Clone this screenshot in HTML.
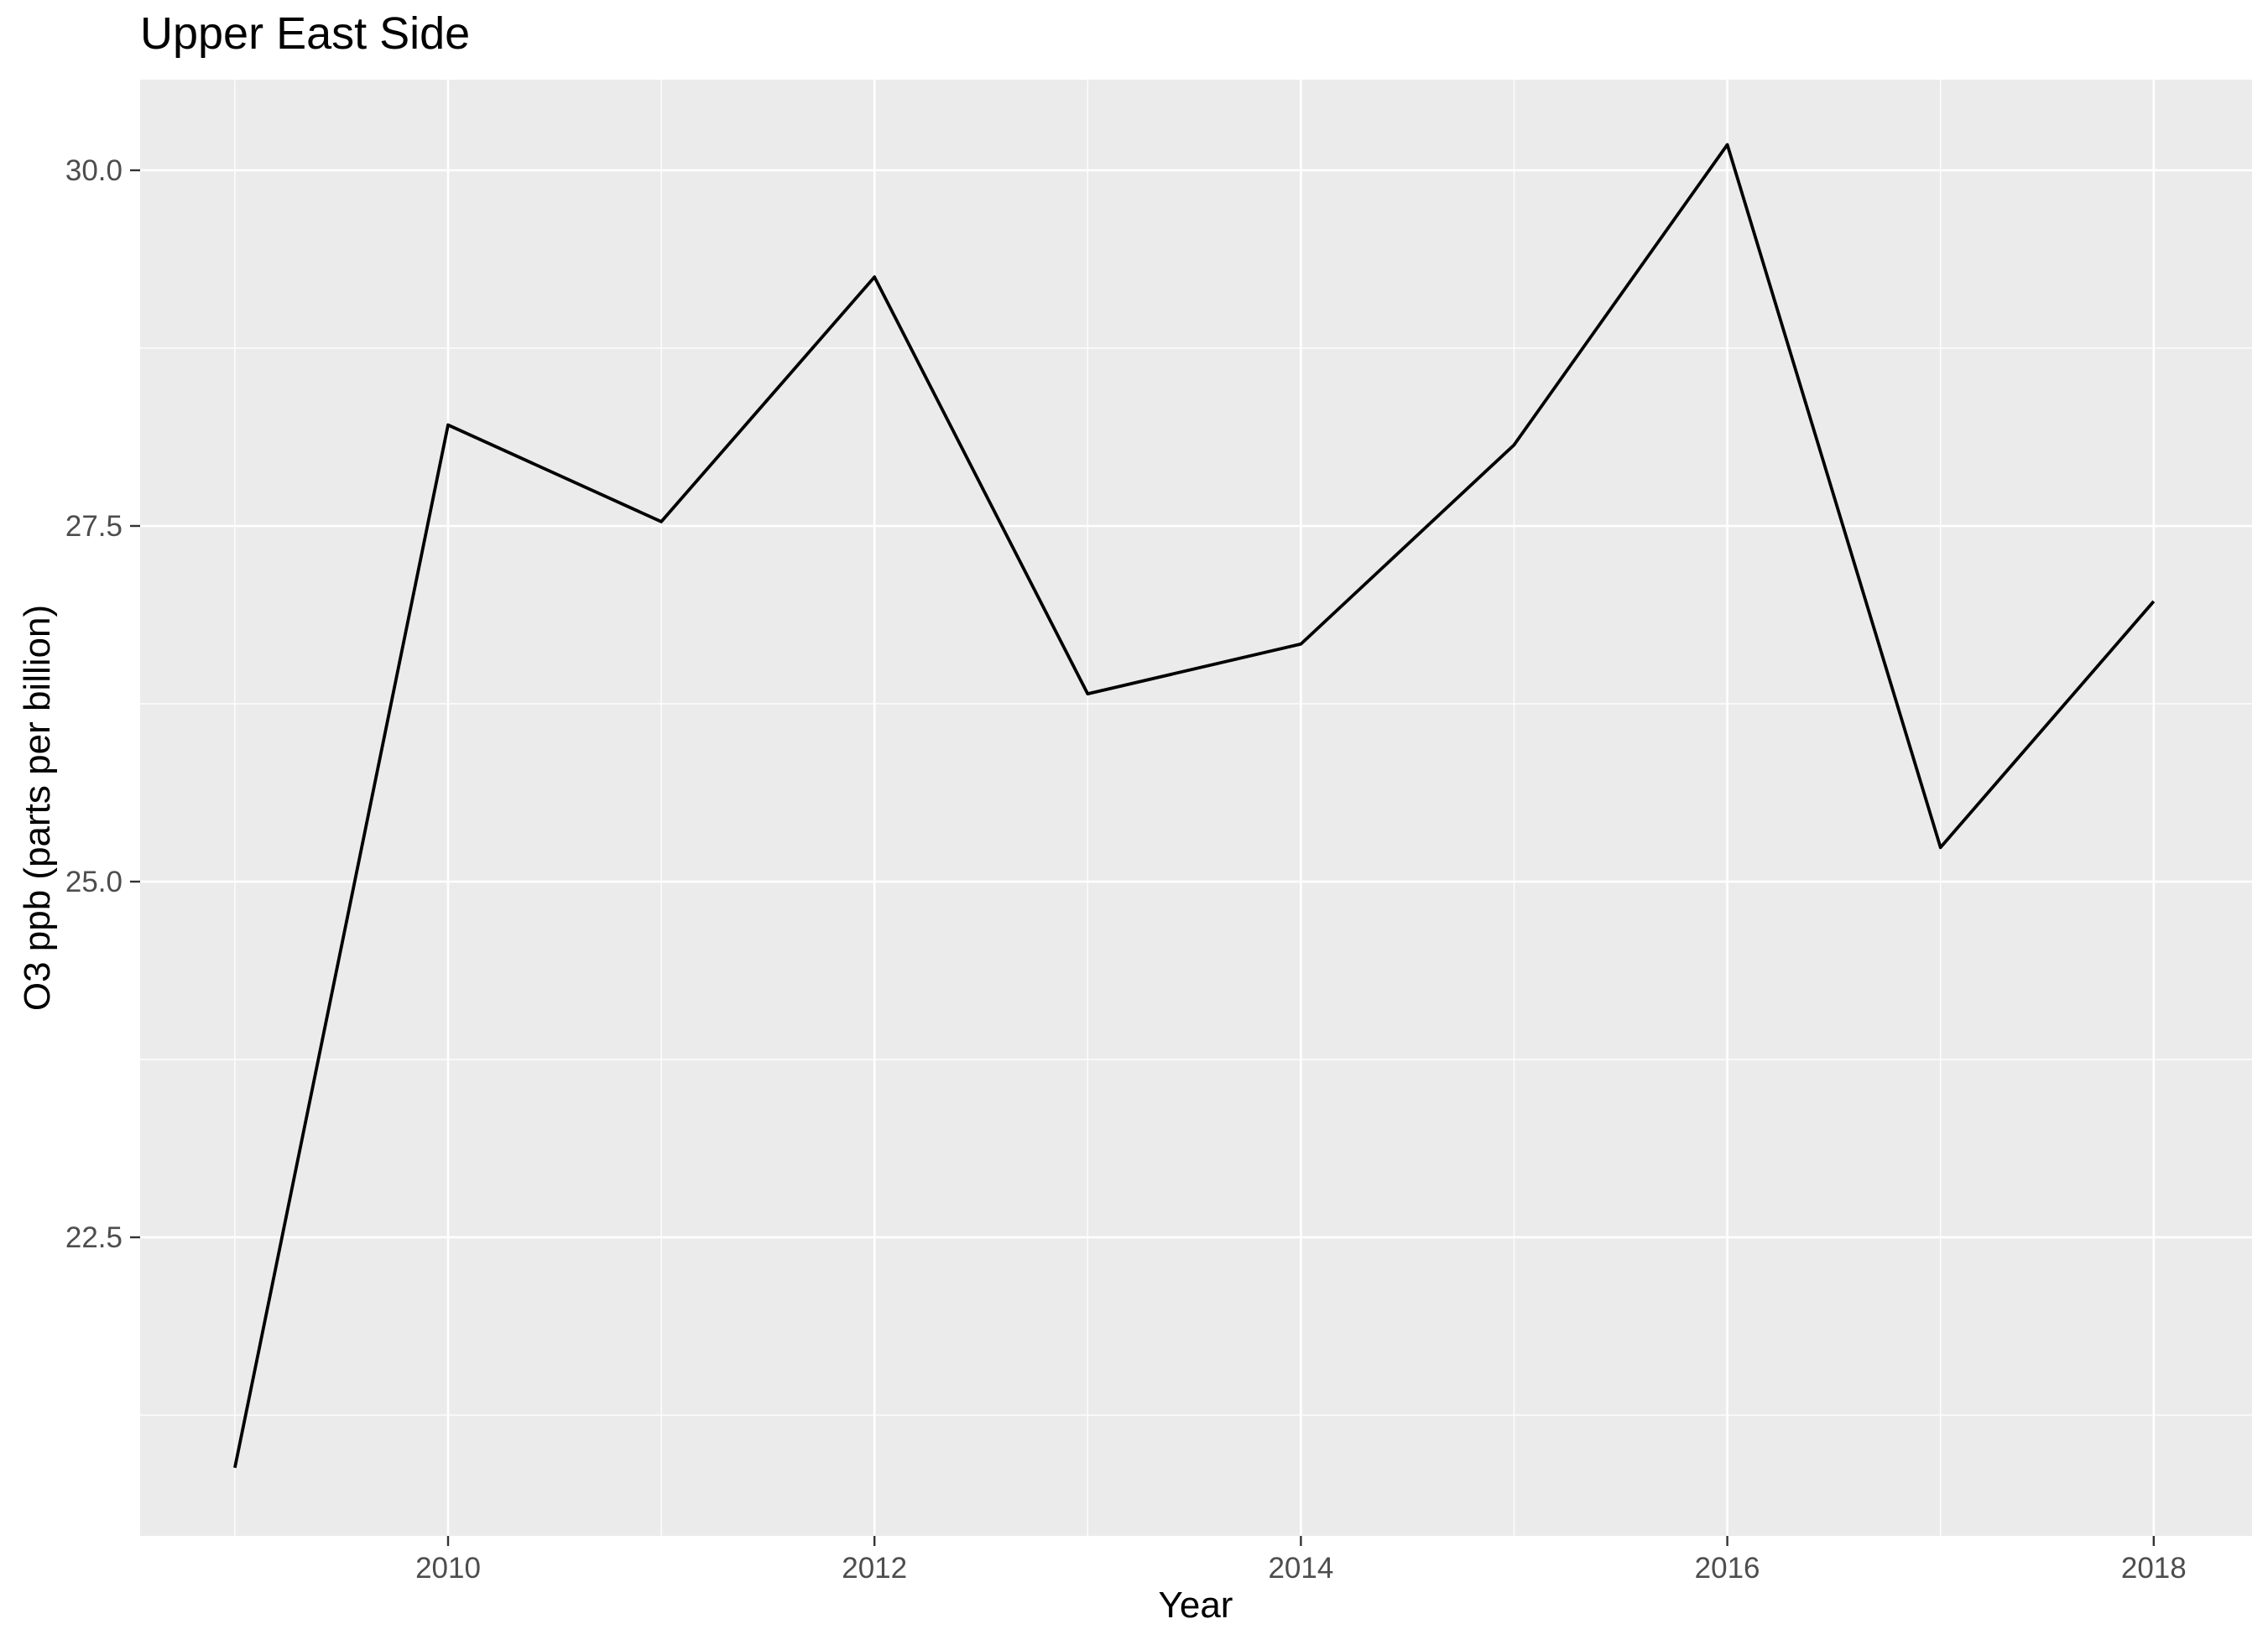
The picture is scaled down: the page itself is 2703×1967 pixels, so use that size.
<!DOCTYPE html>
<html><head><meta charset="utf-8"><style>
body{margin:0;background:#fff;}
svg text{font-family:"Liberation Sans",Arial,sans-serif;}
</style></head><body>
<svg id="chart" width="2703" height="1962" viewBox="0 0 2703 1962" xmlns="http://www.w3.org/2000/svg">
<rect width="2703" height="1962" fill="#fff"/>
<text x="167" y="58" font-size="54" fill="#000">Upper East Side</text>
<rect x="167" y="95" width="2517" height="1736" fill="#ebebeb"/>
<g id="grid"></g>
<g id="axes"></g>
<path id="series" fill="none" stroke="#000" stroke-width="3.8" stroke-linejoin="round"/>
<text x="1425" y="1928" font-size="44" text-anchor="middle" fill="#000">Year</text>
<text transform="translate(59,963) rotate(-90)" font-size="44" text-anchor="middle" fill="#000">O3 ppb (parts per billion)</text>
</svg>
<script>
const years=[2009,2010,2011,2012,2013,2014,2015,2016,2017,2018];
const o3=[20.88,28.21,27.53,29.25,26.32,26.67,28.07,30.18,25.24,26.97];
const xTicks=[2010,2012,2014,2016,2018];
const xMinor=[2009,2011,2013,2015,2017];
const yTicks=[22.5,25.0,27.5,30.0];
const yMinor=[21.25,23.75,26.25,28.75];
const NS="http://www.w3.org/2000/svg";
function sx(v){return 534+(v-2010)*254.1;}
function sy(v){return 203+(30-v)*169.6;}
const L=167,R=2684,T=95,B=1831;
const grid=document.getElementById('grid'),axes=document.getElementById('axes');
function line(p,x1,y1,x2,y2,w,c,name){const l=document.createElementNS(NS,'line');
l.setAttribute('x1',x1);l.setAttribute('y1',y1);l.setAttribute('x2',x2);l.setAttribute('y2',y2);
l.setAttribute('stroke',c);l.setAttribute('stroke-width',w);


p.appendChild(l);}
function text(x,y,s,anchor,name){const t=document.createElementNS(NS,'text');
t.setAttribute('x',x);t.setAttribute('y',y);t.setAttribute('font-size','35');t.setAttribute('fill','#4d4d4d');t.setAttribute('text-anchor',anchor);t.textContent=s;


axes.appendChild(t);}
yMinor.forEach(v=>line(grid,L,sy(v),R,sy(v),1.3,'#fff','y-minor-gridline'));
xMinor.forEach(v=>line(grid,sx(v),T,sx(v),B,1.3,'#fff','x-minor-gridline'));
yTicks.forEach(v=>{line(grid,L,sy(v),R,sy(v),2.6,'#fff','y-major-gridline');
line(axes,155,sy(v),L,sy(v),2.4,'#333','y-tick');text(146,sy(v)+12,v.toFixed(1),'end','y-tick-label');});
xTicks.forEach(v=>{line(grid,sx(v),T,sx(v),B,2.6,'#fff','x-major-gridline');
line(axes,sx(v),B,sx(v),B+12,2.4,'#333','x-tick');text(sx(v),B+50,String(v),'middle','x-tick-label');});
document.getElementById('series').setAttribute('d',years.map((y,i)=>(i?'L':'M')+sx(y)+' '+sy(o3[i])).join(' '));
</script>
</body></html>
